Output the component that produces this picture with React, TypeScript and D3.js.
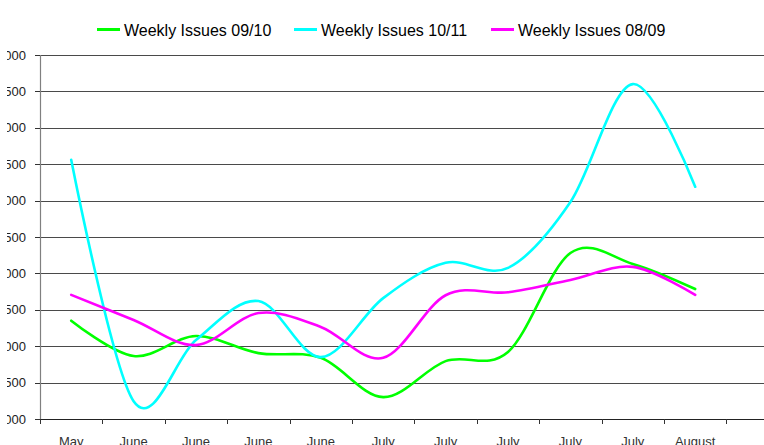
import React from "react";
import * as d3 from "d3";

const categories = ["May", "June", "June", "June", "June", "July", "July", "July", "July", "July", "August"];
const seriesNames = ["Weekly Issues 09/10", "Weekly Issues 10/11", "Weekly Issues 08/09"];
const seriesColors = ["#00ff00", "#00ffff", "#ff00ff"];
const issues0910 = [2350, 1865, 2140, 1905, 1840, 1300, 1795, 1920, 3280, 3130, 2785];
const issues1011 = [4560, 1245, 2085, 2620, 1850, 2660, 3145, 3075, 3980, 5600, 4190];
const issues0809 = [2705, 2360, 2015, 2455, 2265, 1840, 2700, 2740, 2910, 3090, 2705];
const yTicks = [1000, 1500, 2000, 2500, 3000, 3500, 4000, 4500, 5000, 5500, 6000];

const W = 764;
const H = 445;
const FONT = "'Liberation Sans', Arial, sans-serif";

export default function App() {
  const left = 40;
  const step = 62.4;
  const slots = 12;
  const top = 55;
  const bottom = 419;
  const x = d3.scaleLinear().domain([0, slots]).range([left, left + slots * step]);
  const y = d3.scaleLinear().domain([1000, 6000]).range([bottom, top]);
  const line = d3
    .line<number>()
    .x((_, i) => x(i + 0.5))
    .y((d) => y(d))
    .curve(d3.curveCardinal.tension(0));
  const series = [issues0910, issues1011, issues0809];
  const boundaries = d3.range(0, categories.length + 1);

  return (
    <svg
      width={W}
      height={H}
      style={{ position: "absolute", left: 0, top: 0, background: "#fff" }}
      fontFamily={FONT}
    >
      <defs>
        <clipPath id="ylab">
          <rect x={7} y={0} width={40} height={H} />
        </clipPath>
      </defs>
      <rect width={W} height={H} fill="#fff" />
      {/* gridlines */}
      {yTicks.map((t) => (
        <line
          key={t}
          x1={left}
          x2={W}
          y1={Math.round(y(t)) + 0.5}
          y2={Math.round(y(t)) + 0.5}
          stroke="#4a4a4a"
          strokeWidth={1}
        />
      ))}
      {/* y axis */}
      <line x1={left + 0.5} x2={left + 0.5} y1={top} y2={bottom + 1} stroke="#808080" strokeWidth={1.2} />
      <g clipPath="url(#ylab)">
        {yTicks.map((t) => (
          <g key={t}>
            <line x1={35} x2={left} y1={Math.round(y(t)) + 0.5} y2={Math.round(y(t)) + 0.5} stroke="#333" />
            <text x={26} y={y(t) + 4.5} textAnchor="end" fontSize={13} fill="#222">
              {t}
            </text>
          </g>
        ))}
      </g>
      {/* x axis */}
      <line x1={left} x2={W} y1={bottom + 0.5} y2={bottom + 0.5} stroke="#222" strokeWidth={1} />
      {boundaries.map((b) => (
        <line
          key={b}
          x1={Math.round(x(b)) + 0.5}
          x2={Math.round(x(b)) + 0.5}
          y1={bottom}
          y2={bottom + 5}
          stroke="#333"
        />
      ))}
      {categories.map((c, i) => (
        <text key={i} x={x(i + 0.5)} y={446} textAnchor="middle" fontSize={13} fill="#333">
          {c}
        </text>
      ))}
      {/* series */}
      {series.map((s, k) => (
        <path
          key={k}
          d={line(s) || ""}
          fill="none"
          stroke={seriesColors[k]}
          strokeWidth={2.6}
          strokeLinejoin="round"
          strokeLinecap="round"
        />
      ))}
      {/* legend */}
      {seriesNames.map((n, k) => {
        const lx = 97 + k * 197;
        return (
          <g key={n}>
            <line x1={lx} x2={lx + 23} y1={29.5} y2={29.5} stroke={seriesColors[k]} strokeWidth={3} />
            <text x={lx + 27} y={35.5} fontSize={16} fill="#000">
              {n}
            </text>
          </g>
        );
      })}
    </svg>
  );
}
